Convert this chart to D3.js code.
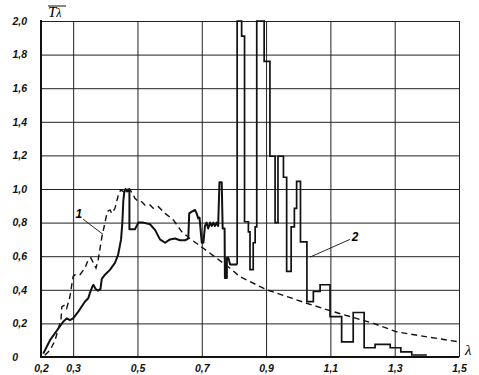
<!DOCTYPE html>
<html>
<head>
<meta charset="utf-8">
<script src="https://cdn.jsdelivr.net/npm/d3@7"></script>
<style>
  body { margin: 0; background: #fff; }
  svg { display: block; }
  .tick text { font-family: "Liberation Sans", sans-serif; font-style: italic; font-weight: bold; font-size: 10.5px; fill: #111; }
</style>
</head>
<body>
<div id="chart"></div>
<script>
// y ticks (Tλ) and x ticks (λ)
const Y_TICKS = [0, 0.2, 0.4, 0.6, 0.8, 1.0, 1.2, 1.4, 1.6, 1.8, 2.0];
const X_TICKS = [0.2, 0.3, 0.5, 0.7, 0.9, 1.1, 1.3, 1.5];

// curve 1 (dashed)
const CURVE1 = [
  [0.212, 0.01], [0.228, 0.04], [0.244, 0.10], [0.254, 0.17], [0.262, 0.22],
  [0.265, 0.30], [0.275, 0.31], [0.280, 0.29], [0.290, 0.36], [0.300, 0.48],
  [0.306, 0.49], [0.321, 0.49], [0.337, 0.53], [0.347, 0.58], [0.355, 0.59],
  [0.363, 0.56], [0.371, 0.53], [0.378, 0.58], [0.389, 0.71], [0.399, 0.80],
  [0.406, 0.865], [0.415, 0.875], [0.420, 0.855], [0.430, 0.885], [0.440, 0.96],
  [0.448, 0.995], [0.456, 0.985], [0.464, 1.0], [0.477, 0.995], [0.486, 0.97],
  [0.492, 0.945], [0.503, 0.925], [0.513, 0.925], [0.523, 0.905], [0.539, 0.905],
  [0.549, 0.885], [0.565, 0.895], [0.586, 0.855], [0.612, 0.815], [0.638, 0.745],
  [0.663, 0.705], [0.705, 0.647], [0.747, 0.587], [0.788, 0.528], [0.819, 0.478],
  [0.902, 0.40], [0.980, 0.35], [1.026, 0.32], [1.109, 0.27], [1.234, 0.20],
  [1.306, 0.15], [1.400, 0.12], [1.500, 0.09]
];

// curve 2 (solid), smooth part
const CURVE2 = [
  [0.207, 0.02], [0.228, 0.10], [0.269, 0.21], [0.280, 0.23], [0.290, 0.22],
  [0.300, 0.23], [0.316, 0.27], [0.337, 0.33], [0.347, 0.35], [0.352, 0.38],
  [0.360, 0.42], [0.363, 0.43], [0.370, 0.405], [0.377, 0.395], [0.385, 0.405],
  [0.389, 0.465], [0.399, 0.49], [0.415, 0.52], [0.430, 0.56], [0.440, 0.61],
  [0.449, 0.70], [0.453, 0.80], [0.456, 0.93], [0.459, 0.98], [0.463, 1.0],
  [0.468, 0.985], [0.475, 1.0], [0.475, 0.76], [0.492, 0.76], [0.503, 0.80],
  [0.518, 0.80], [0.539, 0.79], [0.555, 0.755], [0.570, 0.70], [0.586, 0.68],
  [0.601, 0.70], [0.617, 0.705], [0.632, 0.695], [0.648, 0.695], [0.658, 0.705],
  [0.661, 0.855], [0.669, 0.865], [0.679, 0.875], [0.684, 0.855], [0.689, 0.825],
  [0.693, 0.83], [0.700, 0.68], [0.705, 0.68], [0.710, 0.78], [0.715, 0.80],
  [0.720, 0.765], [0.726, 0.80], [0.731, 0.78], [0.736, 0.80], [0.741, 0.78],
  [0.746, 0.80], [0.751, 0.78], [0.755, 1.04], [0.762, 1.04], [0.765, 0.765],
  [0.771, 0.765], [0.772, 0.47], [0.778, 0.47], [0.778, 0.59], [0.783, 0.59],
  [0.788, 0.55], [0.810, 0.55]
];

// curve 2 (solid), stepped part: value holds from λ until next λ
const CURVE2_STEPS = [
  [0.810, 0.55], [0.810, 2.0], [0.824, 1.91], [0.833, 0.805], [0.845, 0.745],
  [0.850, 0.52], [0.860, 0.68], [0.866, 0.775], [0.871, 2.0], [0.894, 1.76],
  [0.912, 1.195], [0.928, 0.80], [0.937, 1.195], [0.954, 1.07], [0.964, 0.51],
  [0.978, 0.775], [0.988, 0.885], [0.995, 1.045], [1.007, 0.685], [1.027, 0.33],
  [1.047, 0.39], [1.068, 0.43], [1.099, 0.24], [1.135, 0.09], [1.171, 0.265],
  [1.205, 0.055], [1.239, 0.075], [1.286, 0.055], [1.319, 0.03], [1.353, 0.012],
  [1.400, 0.012]
];

// curve number callouts: label position, leader start, leader end
const CALLOUTS = [
  { text: "1", at: [0.318, 0.85], from: [0.331, 0.82], to: [0.393, 0.73] },
  { text: "2", at: [1.177, 0.715], from: [1.161, 0.70], to: [1.037, 0.595] }
];

const width = 479, height = 375;
const x = d3.scaleLinear().domain([0.2, 1.5]).range([41, 459]);
const y = d3.scaleLinear().domain([0, 2]).range([357, 21]);
const comma = v => v === 0 ? "0" : d3.format(".1f")(v).replace(".", ",");

const svg = d3.select("#chart").append("svg")
  .attr("width", width)
  .attr("height", height);

// ---------- GRID + AXES ----------
const yAxis = svg.append("g")
  .attr("transform", `translate(${x(0.2)},0)`)
  .call(d3.axisLeft(y).tickValues(Y_TICKS).tickSize(-(x(1.5) - x(0.2)))
    .tickPadding(14).tickFormat(comma));

const xAxis = svg.append("g")
  .attr("transform", `translate(0,${y(0)})`)
  .call(d3.axisBottom(x).tickValues(X_TICKS).tickSize(-(y(0) - y(2)))
    .tickPadding(8).tickFormat(comma));

[yAxis, xAxis].forEach(g => {
  g.select(".domain").remove();
  g.selectAll(".tick line").attr("stroke", "#222").attr("stroke-width", 1);
});
yAxis.selectAll(".tick")
  .filter(d => d === 0)
  .select("text").attr("x", -23);

svg.append("line")
  .attr("x1", x(0.2)).attr("x2", x(0.2))
  .attr("y1", y(2) - 1).attr("y2", y(0) + 1)
  .attr("stroke", "#111").attr("stroke-width", 2);
svg.append("line")
  .attr("x1", x(0.2) - 1).attr("x2", x(1.5))
  .attr("y1", y(0)).attr("y2", y(0))
  .attr("stroke", "#111").attr("stroke-width", 2);

// ---------- CURVES ----------
const line = d3.line().x(d => x(d[0])).y(d => y(d[1]));

svg.append("path")
  .datum(CURVE1)
  .attr("d", line.curve(d3.curveLinear))
  .attr("fill", "none")
  .attr("stroke", "#111")
  .attr("stroke-width", 1.4)
  .attr("stroke-dasharray", "6,4");

svg.append("path")
  .datum(CURVE2)
  .attr("d", line.curve(d3.curveLinear))
  .attr("fill", "none")
  .attr("stroke", "#111")
  .attr("stroke-width", 2)
  .attr("stroke-linejoin", "round");

svg.append("path")
  .datum(CURVE2_STEPS)
  .attr("d", line.curve(d3.curveStepAfter))
  .attr("fill", "none")
  .attr("stroke", "#111")
  .attr("stroke-width", 1.7);

// ---------- CALLOUTS ----------
CALLOUTS.forEach(c => {
  svg.append("line")
    .attr("x1", x(c.from[0])).attr("y1", y(c.from[1]))
    .attr("x2", x(c.to[0])).attr("y2", y(c.to[1]))
    .attr("stroke", "#111").attr("stroke-width", 0.9);
  svg.append("text")
    .attr("x", x(c.at[0])).attr("y", y(c.at[1]))
    .attr("dy", "0.35em")
    .attr("text-anchor", "middle")
    .attr("font-family", "Liberation Sans, sans-serif")
    .attr("font-style", "italic")
    .attr("font-weight", "bold")
    .attr("font-size", 12)
    .text(c.text);
});

// ---------- AXIS TITLES ----------
const yTitle = svg.append("text")
  .attr("x", 48).attr("y", 17)
  .attr("font-family", "Liberation Serif, serif")
  .attr("font-style", "italic")
  .attr("font-size", 15);
yTitle.append("tspan").text("T");
yTitle.append("tspan").attr("font-size", 12).text("λ");
svg.append("line")
  .attr("x1", 48).attr("x2", 66).attr("y1", 6).attr("y2", 6)
  .attr("stroke", "#111").attr("stroke-width", 1);

svg.append("text")
  .attr("x", 465).attr("y", 355)
  .attr("font-family", "Liberation Serif, serif")
  .attr("font-style", "italic")
  .attr("font-size", 15)
  .text("λ");
</script>
</body>
</html>
